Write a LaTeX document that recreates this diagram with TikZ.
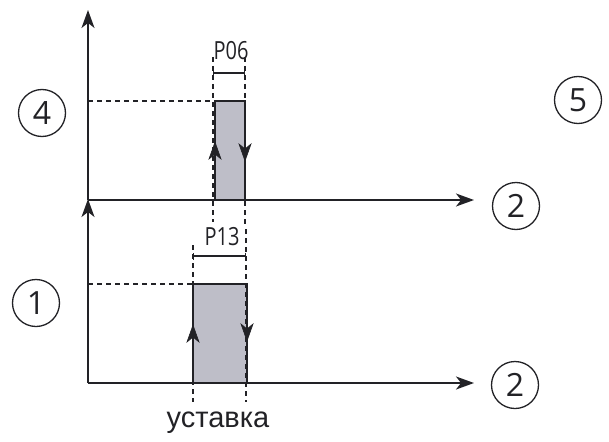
\documentclass[tikz,border=0pt]{standalone}
\usepackage{fontspec}
\setmainfont{Open Sans}
\newfontfamily\arialf{Liberation Sans}
\usetikzlibrary{arrows.meta}
\definecolor{pulsefill}{HTML}{BEBEC8}
\definecolor{ink}{HTML}{222226}
\begin{document}
\begin{tikzpicture}[x=1pt,y=-1pt,
  axis/.style={line width=1.5pt,draw=ink,-{Stealth[length=18pt,width=13pt,inset=5pt]}},
  pulsebox/.style={fill=pulsefill,draw=ink,line width=1.5pt},
  guide/.style={draw=ink,line width=1.3pt,dash pattern=on 5pt off 4pt},
  dimline/.style={draw=ink,line width=1.3pt,{Bar[width=7pt]}-{Bar[width=7pt]}},
  headfill/.style={fill=ink,draw=ink,line width=0.6pt,line join=miter},
  num/.style={circle,draw=ink,line width=1.3pt,minimum size=47pt,inner sep=0pt,font=\fontsize{32}{32}\selectfont,text=ink},
  plabel/.style={inner sep=0pt,font=\fontsize{25}{25}\selectfont,text=ink}
]
\useasboundingbox (0,0) rectangle (609,441);
% coordinates
\coordinate (O1) at (88,200);
\coordinate (Y1) at (88,10);
\coordinate (X1) at (474,200);
\coordinate (O2) at (88,383);
\coordinate (Y2) at (88,199);
\coordinate (X2) at (474,383);
% upper pulse
\coordinate (a1) at (215,200);
\coordinate (a2) at (245,101);
\draw[pulsebox] (a1) rectangle (a2);
% lower pulse
\coordinate (b1) at (193,383);
\coordinate (b2) at (247,284);
\draw[pulsebox] (b1) rectangle (b2);
% guides upper
\coordinate (ha) at (88,101);
\coordinate (hb) at (213,101);
\draw[guide] (ha) -- (hb);
\coordinate (ua1) at (213,57);
\coordinate (ua2) at (213,222);
\coordinate (ub1) at (245,57);
\coordinate (ub2) at (245,224);
\draw[guide] (ua1) -- (ua2);
\draw[guide] (ub1) -- (ub2);
% guides lower
\coordinate (hc) at (88,284);
\coordinate (hd) at (193,284);
\draw[guide] (hc) -- (hd);
\coordinate (la1) at (193,245);
\coordinate (la2) at (193,402);
\coordinate (lb1) at (246,229);
\coordinate (lb2) at (246,402);
\draw[guide] (la1) -- (la2);
\draw[guide] (lb1) -- (lb2);
% dimension lines
\coordinate (d1a) at (213,73);
\coordinate (d1b) at (245,73);
\draw[dimline] (d1a) -- (d1b);
\coordinate (d2a) at (193,256);
\coordinate (d2b) at (246,256);
\draw[dimline] (d2a) -- (d2b);
\node[plabel] (p06) at (231,51) {\scalebox{0.8}[1]{P06}};
\node[plabel] (p13) at (222,237) {\scalebox{0.8}[1]{P13}};
% axes
\draw[axis] (O1) -- (Y1);
\draw[axis] (O1) -- (X1);
\draw[axis] (O2) -- (Y2);
\draw[axis] (O2) -- (X2);
% edge arrows (filled heads on the pulse edges)
\coordinate (e1t) at (215,142);
\draw[headfill] (e1t) -- ++(-6,17) -- ++(6,-5) -- ++(6,5) -- cycle;
\coordinate (e2t) at (245,161);
\draw[headfill] (e2t) -- ++(-6,-17) -- ++(6,5) -- ++(6,-5) -- cycle;
\coordinate (e3t) at (193,325);
\draw[headfill] (e3t) -- ++(-6,17) -- ++(6,-5) -- ++(6,5) -- cycle;
\coordinate (e4t) at (247,341);
\draw[headfill] (e4t) -- ++(-6,-17) -- ++(6,5) -- ++(6,-5) -- cycle;
% circled numbers
\node[num] (n4) at (42,113) {4};
\node[num] (n5) at (578,100) {5};
\node[num] (n2a) at (516,206) {2};
\node[num] (n1) at (36,303) {1};
\node[num] (n2b) at (515,385) {2};
% label
\node[inner sep=0pt,font=\arialf\fontsize{29}{29}\selectfont,text=ink] (ust) at (218,423) {уставка};
\end{tikzpicture}
\end{document}
